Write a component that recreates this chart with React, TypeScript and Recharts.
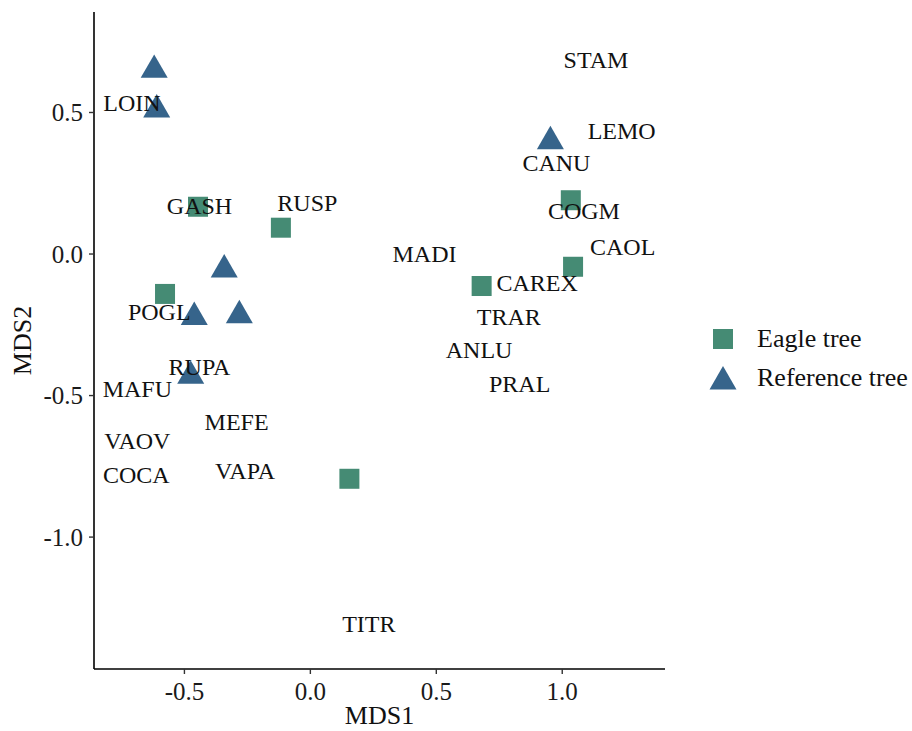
import { Scatter, ScatterChart, XAxis, YAxis } from "recharts";

const FONT = "'Liberation Serif', 'Times New Roman', serif";
const GREEN = "#458B74";
const BLUE = "#36648B";

// site scores
const eagleMDS1 = [-0.446, -0.117, -0.577, 1.034, 1.043, 0.68, 0.155];
const eagleMDS2 = [0.167, 0.093, -0.141, 0.19, -0.045, -0.113, -0.794];
const refMDS1 = [-0.62, -0.61, -0.342, -0.461, -0.282, -0.475, 0.953];
const refMDS2 = [0.65, 0.51, -0.055, -0.223, -0.217, -0.431, 0.398];

// species scores
const species = ["LOIN", "GASH", "RUSP", "STAM", "LEMO", "CANU", "COGM", "CAOL", "MADI", "CAREX", "TRAR", "ANLU", "PRAL", "TITR", "POGL", "RUPA", "MAFU", "MEFE", "VAOV", "COCA", "VAPA"];
const speciesMDS1 = [-0.708, -0.44, -0.012, 1.134, 1.236, 0.977, 1.086, 1.24, 0.453, 0.9, 0.788, 0.67, 0.831, 0.232, -0.6, -0.44, -0.687, -0.293, -0.687, -0.691, -0.259];
const speciesMDS2 = [0.535, 0.169, 0.18, 0.687, 0.435, 0.32, 0.153, 0.024, 0.0, -0.101, -0.221, -0.339, -0.46, -1.307, -0.206, -0.4, -0.478, -0.595, -0.66, -0.78, -0.768];

const xTicks = [-0.5, 0, 0.5, 1];
const yTicks = [-1, -0.5, 0, 0.5];

const eagle = eagleMDS1.map((x, i) => ({ x, y: eagleMDS2[i] }));
const reference = refMDS1.map((x, i) => ({ x, y: refMDS2[i] }));
const labels = species.map((name, i) => ({ name, x: speciesMDS1[i], y: speciesMDS2[i] }));

const Square = (p: any) => <rect x={p.cx - 10} y={p.cy - 10} width={20} height={20} fill={GREEN} />;

const Triangle = (p: any) => {
  const r = 7.8;
  const s = Math.sqrt(3) * r;
  return <polygon points={`${p.cx},${p.cy - 2 * r} ${p.cx - s},${p.cy + r} ${p.cx + s},${p.cy + r}`} fill={BLUE} />;
};

const SpeciesLabel = (p: any) => (
  <text x={p.cx} y={p.cy} textAnchor="middle" dominantBaseline="central" fontFamily={FONT} fontSize={24} fill="#111">
    {p.payload.name}
  </text>
);

const LegendBox = () => (
  <div style={{ position: "absolute", left: 705, top: 319, fontFamily: FONT, fontSize: 26, color: "#111" }}>
    <div style={{ display: "flex", alignItems: "center", height: 39 }}>
      <svg width={36} height={28}><rect x={8} y={4} width={20} height={20} fill={GREEN} /></svg>
      <span style={{ marginLeft: 16 }}>Eagle tree</span>
    </div>
    <div style={{ display: "flex", alignItems: "center", height: 39 }}>
      <svg width={36} height={28}><polygon points="18,2 4.5,25.4 31.5,25.4" fill={BLUE} /></svg>
      <span style={{ marginLeft: 16, whiteSpace: "nowrap" }}>Reference tree</span>
    </div>
  </div>
);

const tickStyle = { fontFamily: FONT, fontSize: 25, fill: "#1a1a1a" };

export default function App() {
  return (
    <div style={{ position: "absolute", left: 0, top: 0, width: 912, height: 731, background: "#fff" }}>
      <ScatterChart width={912} height={731} margin={{ top: 12, right: 247, bottom: 0, left: 0 }}>
        <XAxis
          type="number"
          dataKey="x"
          domain={[-0.859, 1.408]}
          ticks={xTicks}
          tickFormatter={(v: number) => v.toFixed(1)}
          height={62}
          axisLine={{ stroke: "#000", strokeWidth: 1.6 }}
          tickLine={{ stroke: "#333", strokeWidth: 1.4 }}
          tickSize={5}
          tickMargin={8}
          tick={tickStyle}
          label={(props: any) => {
            const vb = props.viewBox;
            return (
              <text x={vb.x + vb.width / 2} y={724} textAnchor="middle" fontFamily={FONT} fontSize={26} fill="#111">
                MDS1
              </text>
            );
          }}
        />
        <YAxis
          type="number"
          dataKey="y"
          domain={[-1.466, 0.855]}
          ticks={yTicks}
          tickFormatter={(v: number) => v.toFixed(1)}
          width={94}
          axisLine={{ stroke: "#000", strokeWidth: 1.6 }}
          tickLine={{ stroke: "#333", strokeWidth: 1.4 }}
          tickSize={5}
          tickMargin={6}
          tick={tickStyle}
          label={(props: any) => {
            const vb = props.viewBox;
            const cy = vb.y + vb.height / 2;
            return (
              <text x={22} y={cy} transform={`rotate(-90, 22, ${cy})`} textAnchor="middle" dominantBaseline="central" fontFamily={FONT} fontSize={26} fill="#111">
                MDS2
              </text>
            );
          }}
        />
        <Scatter name="Eagle tree" data={eagle} shape={Square} isAnimationActive={false} />
        <Scatter name="Reference tree" data={reference} shape={Triangle} isAnimationActive={false} />
        <Scatter name="species" data={labels} shape={SpeciesLabel} isAnimationActive={false} />
      </ScatterChart>
      <LegendBox />
    </div>
  );
}
